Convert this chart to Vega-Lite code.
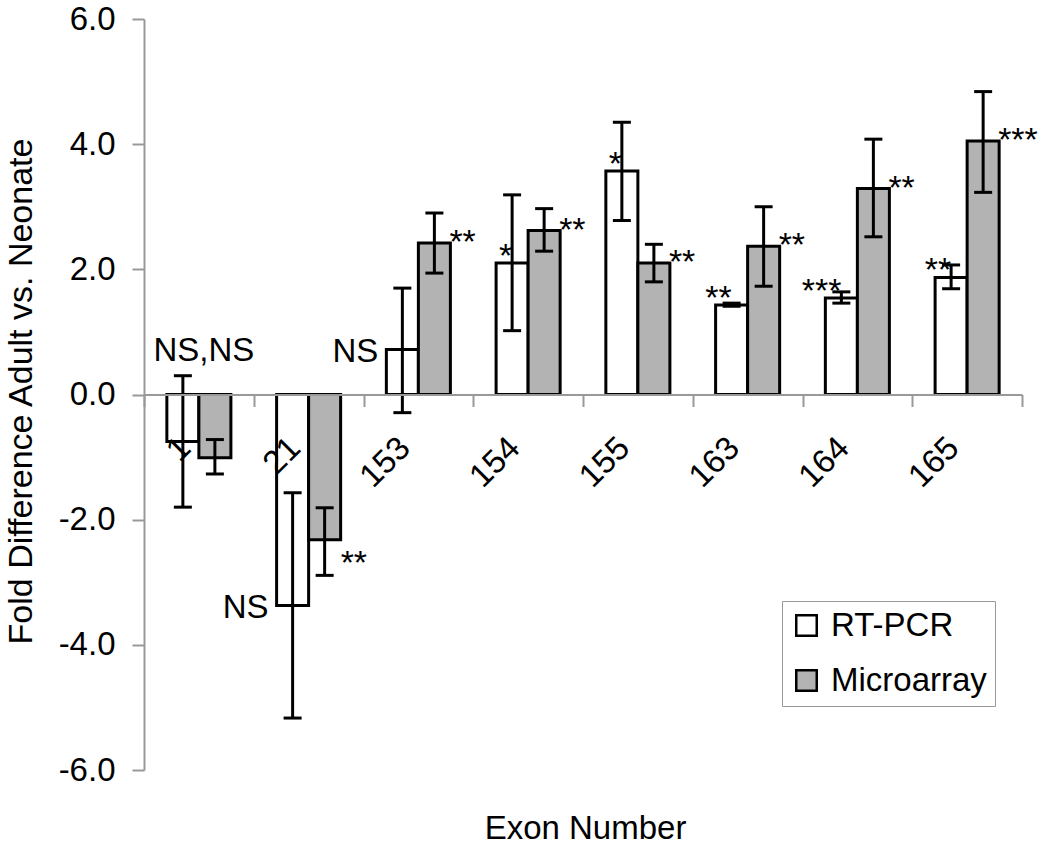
{
  "$schema": "https://vega.github.io/schema/vega-lite/v6.json",
  "width": 878,
  "height": 751,
  "autosize": {"type": "none"},
  "padding": {"left": 144, "top": 19, "right": 28, "bottom": 77},
  "background": "white",
  "config": {
    "view": {"stroke": null},
    "font": "Liberation Sans",
    "text": {"font": "Liberation Sans", "fontSize": 33, "color": "black"}
  },
  "data": {
    "values": [
      {"exon": "1", "series": "RT-PCR", "value": -0.75, "lo": -1.80, "hi": 0.30, "sig": "NS,NS"},
      {"exon": "1", "series": "Microarray", "value": -1.01, "lo": -1.27, "hi": -0.72, "sig": ""},
      {"exon": "21", "series": "RT-PCR", "value": -3.37, "lo": -5.17, "hi": -1.57, "sig": "NS"},
      {"exon": "21", "series": "Microarray", "value": -2.32, "lo": -2.89, "hi": -1.81, "sig": "**"},
      {"exon": "153", "series": "RT-PCR", "value": 0.72, "lo": -0.29, "hi": 1.70, "sig": "NS"},
      {"exon": "153", "series": "Microarray", "value": 2.42, "lo": 1.94, "hi": 2.90, "sig": "**"},
      {"exon": "154", "series": "RT-PCR", "value": 2.10, "lo": 1.02, "hi": 3.19, "sig": "*"},
      {"exon": "154", "series": "Microarray", "value": 2.62, "lo": 2.29, "hi": 2.97, "sig": "**"},
      {"exon": "155", "series": "RT-PCR", "value": 3.57, "lo": 2.78, "hi": 4.35, "sig": "*"},
      {"exon": "155", "series": "Microarray", "value": 2.10, "lo": 1.80, "hi": 2.40, "sig": "**"},
      {"exon": "163", "series": "RT-PCR", "value": 1.43, "lo": 1.41, "hi": 1.46, "sig": "**"},
      {"exon": "163", "series": "Microarray", "value": 2.37, "lo": 1.73, "hi": 3.00, "sig": "**"},
      {"exon": "164", "series": "RT-PCR", "value": 1.54, "lo": 1.46, "hi": 1.64, "sig": "***"},
      {"exon": "164", "series": "Microarray", "value": 3.29, "lo": 2.52, "hi": 4.08, "sig": "**"},
      {"exon": "165", "series": "RT-PCR", "value": 1.87, "lo": 1.69, "hi": 2.07, "sig": "**"},
      {"exon": "165", "series": "Microarray", "value": 4.05, "lo": 3.23, "hi": 4.84, "sig": "***"}
    ]
  },
  "encoding": {
    "x": {
      "field": "exon",
      "type": "nominal",
      "sort": ["1", "21", "153", "154", "155", "163", "164", "165"],
      "scale": {"paddingInner": 0, "paddingOuter": 0},
      "axis": {
        "title": "Exon Number",
        "orient": "bottom",
        "offset": -375.5,
        "zindex": 1,
        "tickBand": "extent",
        "domainColor": "#999999",
        "domainWidth": 2,
        "tickColor": "#999999",
        "tickWidth": 2,
        "tickSize": 12,
        "labelAngle": -45,
        "labelAlign": "right",
        "labelBaseline": "middle",
        "labelPadding": 36,
        "labelOffset": -14,
        "labelFont": "Liberation Sans",
        "labelFontSize": 33,
        "labelColor": "black",
        "titleFont": "Liberation Sans",
        "titleFontSize": 33,
        "titleFontWeight": "normal",
        "titleColor": "black",
        "titleX": 441,
        "titleY": 443.5,
        "titleBaseline": "alphabetic",
        "titleAlign": "center"
      }
    },
    "xOffset": {
      "field": "series",
      "type": "nominal",
      "sort": ["RT-PCR", "Microarray"],
      "scale": {"paddingInner": 0, "paddingOuter": 0.714}
    },
    "y": {
      "field": "value",
      "type": "quantitative",
      "scale": {"domain": [-6, 6], "nice": false},
      "axis": {
        "title": "Fold Difference Adult vs. Neonate",
        "values": [-6, -4, -2, 0, 2, 4, 6],
        "labelExpr": "(datum.value < 0 ? '-' : '') + format(abs(datum.value), '.1f')",
        "grid": false,
        "domainColor": "#999999",
        "domainWidth": 2,
        "tickColor": "#999999",
        "tickWidth": 2,
        "tickSize": 12,
        "labelFont": "Liberation Sans",
        "labelFontSize": 33,
        "labelColor": "black",
        "labelPadding": 17,
        "titleFont": "Liberation Sans",
        "titleFontSize": 34,
        "titleFontWeight": "normal",
        "titleColor": "black",
        "titleX": -113,
        "titleY": 372,
        "titleAngle": -90,
        "titleBaseline": "alphabetic",
        "titleAlign": "center"
      }
    }
  },
  "layer": [
    {
      "mark": {"type": "bar", "stroke": "black", "strokeWidth": 3},
      "encoding": {
        "fill": {
          "field": "series",
          "type": "nominal",
          "scale": {"domain": ["RT-PCR", "Microarray"], "range": ["#ffffff", "#b3b3b3"]},
          "legend": {
            "orient": "none",
            "legendX": 638,
            "legendY": 582,
            "title": null,
            "strokeColor": "#999999",
            "fillColor": "white",
            "padding": 8,
            "symbolType": "square",
            "symbolSize": 420,
            "symbolStrokeColor": "black",
            "symbolStrokeWidth": 2.5,
            "symbolOpacity": 1,
            "labelFont": "Liberation Sans",
            "labelFontSize": 33,
            "labelColor": "black",
            "labelOffset": 8,
            "rowPadding": 21
          }
        }
      }
    },
    {
      "mark": {"type": "rule", "strokeWidth": 3, "color": "black"},
      "encoding": {
        "y": {"field": "lo", "type": "quantitative"},
        "y2": {"field": "hi"}
      }
    },
    {
      "mark": {"type": "tick", "size": 18, "thickness": 3, "color": "black", "opacity": 1},
      "encoding": {"y": {"field": "lo", "type": "quantitative"}}
    },
    {
      "mark": {"type": "tick", "size": 18, "thickness": 3, "color": "black", "opacity": 1},
      "encoding": {"y": {"field": "hi", "type": "quantitative"}}
    },
    {
      "transform": [{"filter": "datum.series == 'RT-PCR' && indexof(datum.sig, '*') >= 0"}],
      "mark": {"type": "text", "align": "right", "baseline": "alphabetic", "dy": 4, "fontSize": 34},
      "encoding": {"text": {"field": "sig"}}
    },
    {
      "transform": [{"filter": "datum.sig == 'NS'"}],
      "mark": {"type": "text", "align": "right", "baseline": "middle", "dx": -24, "dy": 3, "fontSize": 33},
      "encoding": {"text": {"field": "sig"}}
    },
    {
      "transform": [{"filter": "datum.sig == 'NS,NS'"}],
      "mark": {"type": "text", "align": "center", "baseline": "alphabetic", "dx": 21, "dy": -15, "fontSize": 33},
      "encoding": {
        "y": {"field": "hi", "type": "quantitative"},
        "text": {"field": "sig"}
      }
    },
    {
      "transform": [{"filter": "datum.series == 'Microarray' && datum.value > 0 && datum.sig != ''"}],
      "mark": {"type": "text", "align": "left", "baseline": "alphabetic", "dx": 15, "dy": 10, "fontSize": 34},
      "encoding": {"text": {"field": "sig"}}
    },
    {
      "transform": [{"filter": "datum.series == 'Microarray' && datum.value < 0 && datum.sig != ''"}],
      "mark": {"type": "text", "align": "left", "baseline": "alphabetic", "dx": 16, "dy": 34, "fontSize": 34},
      "encoding": {"text": {"field": "sig"}}
    }
  ]
}
